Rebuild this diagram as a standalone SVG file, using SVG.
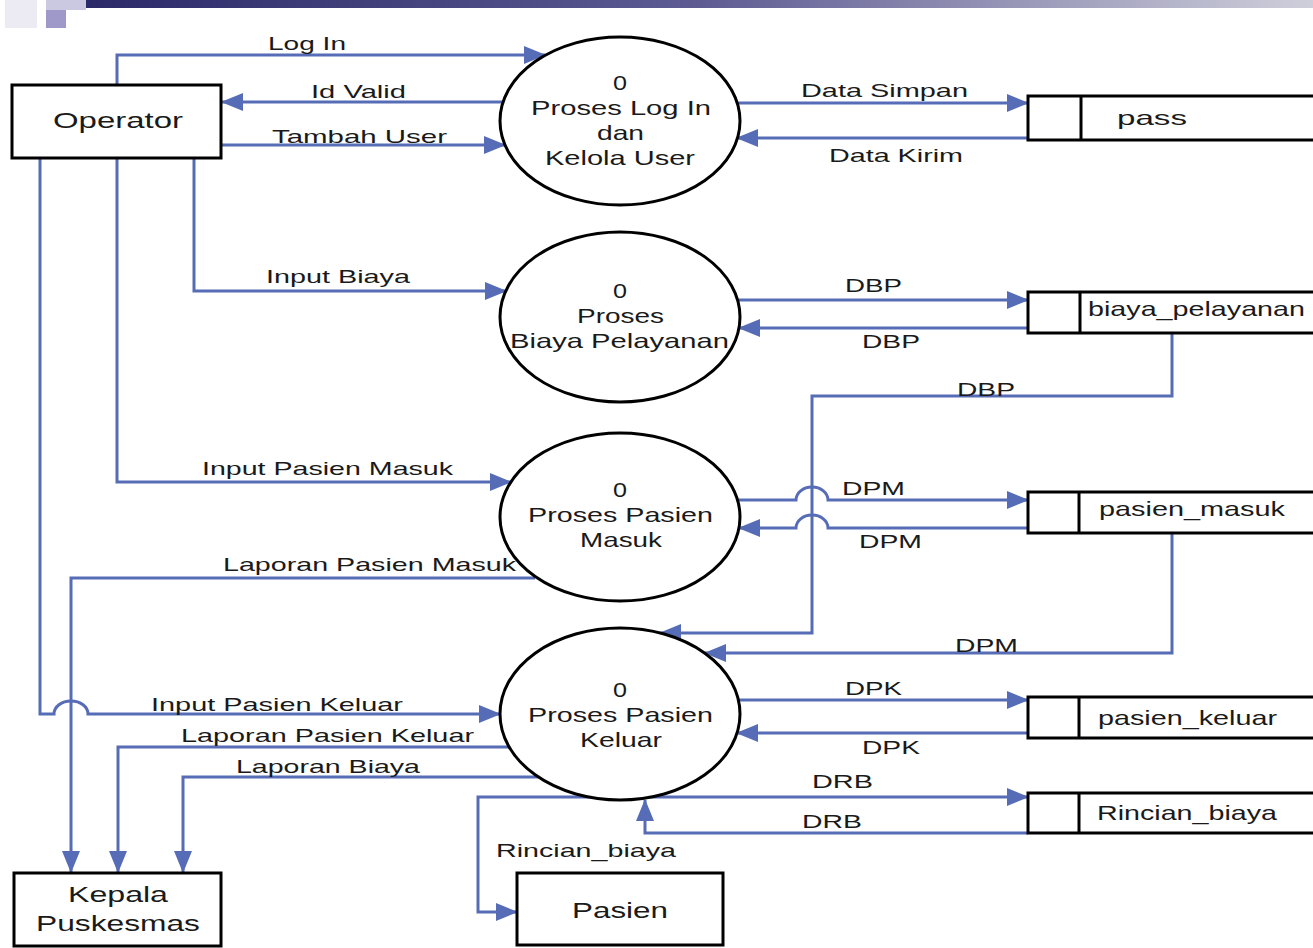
<svg xmlns="http://www.w3.org/2000/svg" width="1313" height="948" viewBox="0 0 1313 948">
<style>
.t{font-family:"Liberation Sans",Arial,sans-serif;fill:#1a1a1a;}
.lb{font-size:19px;}
.pt{font-size:21px;}
.bt{font-size:22px;}
.box{fill:#fff;stroke:#000;stroke-width:3;}
.st{fill:none;stroke:#000;stroke-width:3;}
.fl{fill:none;stroke:#566cb6;stroke-width:3;}
</style>
<defs>
<linearGradient id="hdr" x1="0" y1="0" x2="1" y2="0">
<stop offset="0" stop-color="#2b2968"/>
<stop offset="0.5" stop-color="#5d5b92"/>
<stop offset="1" stop-color="#cfcfdb"/>
</linearGradient>
<marker id="ah" viewBox="0 0 22 18" refX="21" refY="9" markerWidth="22" markerHeight="18" markerUnits="userSpaceOnUse" orient="auto">
<path d="M0,0 L22,9 L0,18 z" fill="#566cb6"/>
</marker>
</defs>
<rect width="1313" height="948" fill="#fff"/>
<g id="header">
<rect x="86" y="0" width="1227" height="8" fill="url(#hdr)"/>
<rect x="5" y="0" width="32" height="28" fill="#ecebf3"/>
<rect x="46" y="0" width="40" height="10" fill="#cbc8e1"/>
<rect x="46" y="10" width="20" height="18" fill="#9e99c9"/>
</g>
<g id="connectors">
<path class="fl" d="M117,85 V55 H545" marker-end="url(#ah)"/>
<path class="fl" d="M503,102 H222" marker-end="url(#ah)"/>
<path class="fl" d="M221,145 H505" marker-end="url(#ah)"/>
<path class="fl" d="M194,158 V291 H506" marker-end="url(#ah)"/>
<path class="fl" d="M117,158 V482 H511" marker-end="url(#ah)"/>
<path class="fl" d="M40,158 V714 H54 A17,13 0 0 1 88,714 H500" marker-end="url(#ah)"/>
<path class="fl" d="M535,578 H71 V872" marker-end="url(#ah)"/>
<path class="fl" d="M509,747 H118 V872" marker-end="url(#ah)"/>
<path class="fl" d="M538,777 H183 V872" marker-end="url(#ah)"/>
<path class="fl" d="M737,103 H1028" marker-end="url(#ah)"/>
<path class="fl" d="M1028,138 H737" marker-end="url(#ah)"/>
<path class="fl" d="M737,300 H1028" marker-end="url(#ah)"/>
<path class="fl" d="M1028,328 H739" marker-end="url(#ah)"/>
<path class="fl" d="M1172,333 V396 H812 V633 H660" marker-end="url(#ah)"/>
<path class="fl" d="M737,500 H796 A16,13 0 0 1 828,500 H1028" marker-end="url(#ah)"/>
<path class="fl" d="M1028,528 H828 A16,13 0 0 0 796,528 H739" marker-end="url(#ah)"/>
<path class="fl" d="M1172,533 V653 H705" marker-end="url(#ah)"/>
<path class="fl" d="M738,700 H1028" marker-end="url(#ah)"/>
<path class="fl" d="M1028,733 H737" marker-end="url(#ah)"/>
<path class="fl" d="M600,797 H1028" marker-end="url(#ah)"/>
<path class="fl" d="M600,797 H478 V912 H517" marker-end="url(#ah)"/>
<path class="fl" d="M1028,833 H645 V800" marker-end="url(#ah)"/>
<text class="t lb" x="268" y="50" textLength="78" lengthAdjust="spacingAndGlyphs">Log In</text>
<text class="t lb" x="311" y="98" textLength="95" lengthAdjust="spacingAndGlyphs">Id Valid</text>
<text class="t lb" x="272" y="143" textLength="175" lengthAdjust="spacingAndGlyphs">Tambah User</text>
<text class="t lb" x="266" y="283" textLength="144" lengthAdjust="spacingAndGlyphs">Input Biaya</text>
<text class="t lb" x="202" y="475" textLength="251" lengthAdjust="spacingAndGlyphs">Input Pasien Masuk</text>
<text class="t lb" x="223" y="571" textLength="293" lengthAdjust="spacingAndGlyphs">Laporan Pasien Masuk</text>
<text class="t lb" x="151" y="711" textLength="252" lengthAdjust="spacingAndGlyphs">Input Pasien Keluar</text>
<text class="t lb" x="181" y="742" textLength="293" lengthAdjust="spacingAndGlyphs">Laporan Pasien Keluar</text>
<text class="t lb" x="236" y="773" textLength="184" lengthAdjust="spacingAndGlyphs">Laporan Biaya</text>
<text class="t lb" x="496" y="857" textLength="180" lengthAdjust="spacingAndGlyphs">Rincian_biaya</text>
<text class="t lb" x="801" y="97" textLength="167" lengthAdjust="spacingAndGlyphs">Data Simpan</text>
<text class="t lb" x="829" y="162" textLength="134" lengthAdjust="spacingAndGlyphs">Data Kirim</text>
<text class="t lb" x="845" y="292" textLength="57" lengthAdjust="spacingAndGlyphs">DBP</text>
<text class="t lb" x="862" y="348" textLength="58" lengthAdjust="spacingAndGlyphs">DBP</text>
<text class="t lb" x="957" y="396" textLength="58" lengthAdjust="spacingAndGlyphs">DBP</text>
<text class="t lb" x="842" y="495" textLength="63" lengthAdjust="spacingAndGlyphs">DPM</text>
<text class="t lb" x="859" y="548" textLength="63" lengthAdjust="spacingAndGlyphs">DPM</text>
<text class="t lb" x="955" y="652" textLength="63" lengthAdjust="spacingAndGlyphs">DPM</text>
<text class="t lb" x="845" y="695" textLength="57" lengthAdjust="spacingAndGlyphs">DPK</text>
<text class="t lb" x="862" y="754" textLength="58" lengthAdjust="spacingAndGlyphs">DPK</text>
<text class="t lb" x="812" y="788" textLength="61" lengthAdjust="spacingAndGlyphs">DRB</text>
<text class="t lb" x="802" y="828" textLength="60" lengthAdjust="spacingAndGlyphs">DRB</text>
</g>
<g id="operator">
<rect class="box" x="12" y="85" width="209" height="73"/>
<text class="t bt" x="53" y="128" textLength="130" lengthAdjust="spacingAndGlyphs">Operator</text>
</g>
<g id="kepala-puskesmas">
<rect class="box" x="14" y="873" width="207" height="73"/>
<text class="t bt" x="68" y="902" textLength="100" lengthAdjust="spacingAndGlyphs">Kepala</text>
<text class="t bt" x="36" y="931" textLength="164" lengthAdjust="spacingAndGlyphs">Puskesmas</text>
</g>
<g id="pasien">
<rect class="box" x="517" y="873" width="206" height="72"/>
<text class="t bt" x="572" y="918" textLength="96" lengthAdjust="spacingAndGlyphs">Pasien</text>
</g>
<g id="proses-login">
<ellipse class="box" cx="620" cy="121" rx="120" ry="84"/>
<text class="t pt" x="613" y="90" textLength="14" lengthAdjust="spacingAndGlyphs">0</text>
<text class="t pt" x="531" y="115" textLength="180" lengthAdjust="spacingAndGlyphs">Proses Log In</text>
<text class="t pt" x="597" y="140" textLength="47" lengthAdjust="spacingAndGlyphs">dan</text>
<text class="t pt" x="545" y="165" textLength="150" lengthAdjust="spacingAndGlyphs">Kelola User</text>
</g>
<g id="proses-biaya">
<ellipse class="box" cx="620" cy="317" rx="120" ry="85"/>
<text class="t pt" x="613" y="298" textLength="14" lengthAdjust="spacingAndGlyphs">0</text>
<text class="t pt" x="577" y="323" textLength="87" lengthAdjust="spacingAndGlyphs">Proses</text>
<text class="t pt" x="510" y="348" textLength="219" lengthAdjust="spacingAndGlyphs">Biaya Pelayanan</text>
</g>
<g id="proses-pasien-masuk">
<ellipse class="box" cx="620" cy="517" rx="120" ry="84"/>
<text class="t pt" x="613" y="497" textLength="14" lengthAdjust="spacingAndGlyphs">0</text>
<text class="t pt" x="528" y="522" textLength="185" lengthAdjust="spacingAndGlyphs">Proses Pasien</text>
<text class="t pt" x="580" y="547" textLength="82" lengthAdjust="spacingAndGlyphs">Masuk</text>
</g>
<g id="proses-pasien-keluar">
<ellipse class="box" cx="620" cy="714" rx="120" ry="86"/>
<text class="t pt" x="613" y="697" textLength="14" lengthAdjust="spacingAndGlyphs">0</text>
<text class="t pt" x="528" y="722" textLength="185" lengthAdjust="spacingAndGlyphs">Proses Pasien</text>
<text class="t pt" x="580" y="747" textLength="82" lengthAdjust="spacingAndGlyphs">Keluar</text>
</g>
<g id="store-pass">
<path class="st" d="M1313,96 H1028 V140 H1313 M1081,96 V140"/>
<text class="t pt" x="1117" y="125" textLength="70" lengthAdjust="spacingAndGlyphs">pass</text>
</g>
<g id="store-biaya-pelayanan">
<path class="st" d="M1313,292 H1028 V333 H1313 M1080,292 V333"/>
<text class="t pt" x="1088" y="316" textLength="217" lengthAdjust="spacingAndGlyphs">biaya_pelayanan</text>
</g>
<g id="store-pasien-masuk">
<path class="st" d="M1313,492 H1028 V533 H1313 M1079,492 V533"/>
<text class="t pt" x="1099" y="516" textLength="186" lengthAdjust="spacingAndGlyphs">pasien_masuk</text>
</g>
<g id="store-pasien-keluar">
<path class="st" d="M1313,697 H1028 V738 H1313 M1079,697 V738"/>
<text class="t pt" x="1098" y="725" textLength="179" lengthAdjust="spacingAndGlyphs">pasien_keluar</text>
</g>
<g id="store-rincian-biaya">
<path class="st" d="M1313,793 H1028 V833 H1313 M1079,793 V833"/>
<text class="t pt" x="1097" y="820" textLength="180" lengthAdjust="spacingAndGlyphs">Rincian_biaya</text>
</g>
</svg>
